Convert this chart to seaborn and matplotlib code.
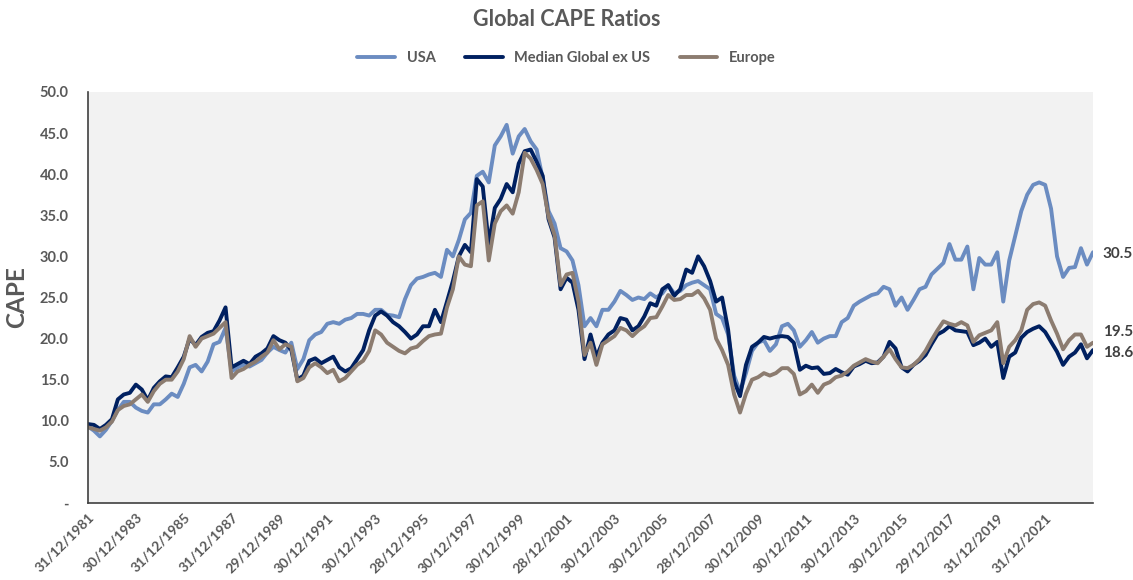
import pandas as pd
import matplotlib
matplotlib.use("Agg")
import matplotlib.pyplot as plt
import seaborn as sns

# quarterly CAPE readings, Dec 1981 .. Dec 2023
start_date = "1981-12-31"
end_date = "2023-12-31"

usa = [
    9.3, 8.8, 8.1, 8.9, 10.0, 11.3, 12.3, 12.3, 11.6,
    11.2, 11.0, 12.0, 12.0, 12.6, 13.3, 12.9, 14.5,
    16.5, 16.8, 16.0, 17.2, 19.3, 19.6, 21.3, 16.0,
    16.5, 16.8, 16.6, 17.0, 17.4, 18.3, 19.0, 18.6,
    18.3, 19.5, 16.3, 17.5, 19.8, 20.5, 20.8, 21.8,
    22.0, 21.8, 22.3, 22.5, 23.0, 23.0, 22.8, 23.5,
    23.5, 22.9, 22.8, 22.6, 24.8, 26.5, 27.3, 27.5,
    27.8, 28.0, 27.5, 30.8, 30.0, 32.0, 34.5, 35.3,
    39.8, 40.3, 39.0, 43.5, 44.6, 46.0, 42.5, 44.6,
    45.5, 44.0, 43.0, 39.5, 35.5, 34.0, 31.0, 30.6,
    29.5, 26.5, 21.5, 22.5, 21.5, 23.5, 23.5, 24.5,
    25.8, 25.3, 24.7, 25.0, 24.8, 25.5, 25.0, 25.5,
    26.5, 25.5, 25.8, 26.5, 26.8, 27.0, 26.5, 26.0,
    23.0, 22.5, 20.5, 15.5, 13.5, 15.8, 18.5, 19.5,
    19.8, 18.5, 19.3, 21.5, 21.8, 21.0, 19.0, 19.8,
    20.8, 19.5, 20.0, 20.3, 20.3, 22.0, 22.5, 24.0,
    24.5, 24.9, 25.3, 25.5, 26.3, 26.0, 24.0, 25.0,
    23.5, 24.7, 26.0, 26.3, 27.8, 28.5, 29.2, 31.5,
    29.6, 29.6, 31.2, 26.0, 29.8, 29.0, 29.0, 30.5,
    24.5, 29.5, 32.5, 35.5, 37.5, 38.7, 39.0, 38.7,
    35.8, 30.0, 27.5, 28.6, 28.7, 31.0, 29.0, 30.5,
]

median_ex_us = [
    9.6, 9.5, 9.0, 9.5, 10.2, 12.6, 13.2, 13.4, 14.4,
    13.8, 12.5, 14.0, 14.8, 15.4, 15.3, 16.5, 17.8,
    20.0, 19.2, 20.2, 20.7, 20.9, 22.2, 23.8, 16.5,
    16.9, 17.3, 16.9, 17.8, 18.2, 18.8, 20.3, 19.8,
    19.5, 18.6, 15.0, 15.5, 17.3, 17.6, 17.0, 17.4,
    17.8, 16.5, 16.0, 16.4, 17.5, 18.6, 21.0, 22.8,
    23.3, 22.8, 22.0, 21.5, 20.8, 20.0, 20.5, 21.5,
    21.5, 23.5, 22.0, 24.5, 27.0, 30.0, 31.4, 30.5,
    39.4, 38.5, 31.5, 35.9, 37.0, 38.8, 37.8, 41.3,
    42.8, 43.0, 41.5, 39.8, 34.5, 32.3, 26.0, 27.4,
    26.8, 23.5, 17.5, 20.5, 17.8, 19.5, 20.5, 21.0,
    22.5, 22.3, 21.0, 21.5, 22.7, 24.3, 24.0, 26.0,
    26.5, 25.2, 26.0, 28.4, 28.0, 30.0, 28.8, 27.0,
    24.5, 25.0, 21.1, 14.8, 13.0, 16.8, 19.0, 19.5,
    20.2, 20.0, 20.2, 20.3, 20.2, 19.5, 16.2, 16.7,
    16.4, 16.5, 15.7, 15.8, 16.3, 15.9, 15.6, 16.6,
    16.9, 17.3, 17.0, 17.1, 17.8, 19.6, 18.8, 16.5,
    16.0, 16.8, 17.3, 18.0, 19.3, 20.5, 20.9, 21.5,
    21.0, 20.9, 20.8, 19.2, 19.5, 20.0, 19.0, 19.6,
    15.2, 17.8, 18.3, 20.1, 20.8, 21.2, 21.5, 20.8,
    19.6, 18.4, 16.8, 17.8, 18.3, 19.3, 17.6, 18.6,
]

europe = [
    9.2, 9.0, 8.8, 9.2, 9.9, 11.3, 11.8, 12.0, 12.6,
    13.2, 12.3, 13.6, 14.5, 15.0, 15.0, 16.0, 17.5,
    20.3, 19.0, 20.0, 20.3, 20.6, 21.3, 22.0, 15.2,
    16.0, 16.3, 16.8, 17.2, 17.8, 18.3, 19.8, 18.7,
    19.3, 19.0, 14.8, 15.2, 16.5, 17.0, 16.5, 15.8,
    16.2, 14.8, 15.2, 16.0, 16.8, 17.3, 18.5, 21.0,
    20.5, 19.5, 19.0, 18.5, 18.2, 18.8, 19.0, 19.7,
    20.3, 20.5, 20.6, 23.8, 26.0, 30.0, 29.0, 28.8,
    36.2, 36.7, 29.5, 34.0, 35.5, 36.2, 35.2, 37.8,
    42.6, 41.9, 40.5, 38.8, 34.8, 32.6, 26.5, 27.8,
    28.0, 24.5, 18.0, 19.5, 16.8, 19.3, 19.8, 20.3,
    21.3, 21.0, 20.3, 21.0, 21.5, 22.5, 22.6, 23.9,
    25.3, 24.7, 24.8, 25.3, 25.3, 25.8, 24.9, 23.5,
    20.0, 18.6, 16.8, 13.2, 11.0, 13.3, 15.0, 15.3,
    15.8, 15.5, 15.8, 16.4, 16.4, 15.7, 13.2, 13.6,
    14.4, 13.4, 14.4, 14.7, 15.3, 15.5, 16.0, 16.7,
    17.1, 17.5, 17.2, 17.0, 17.8, 18.7, 17.5, 16.5,
    16.4, 16.8, 17.5, 18.5, 19.8, 21.0, 22.1, 21.8,
    21.6, 22.0, 21.6, 19.6, 20.4, 20.7, 21.0, 22.0,
    17.0, 19.0, 19.8, 21.0, 23.5, 24.2, 24.4, 24.0,
    22.2, 20.6, 18.7, 19.8, 20.5, 20.5, 19.0, 19.5,
]

tick_labels = [
    "31/12/1981", "30/12/1983", "31/12/1985", "31/12/1987", "29/12/1989",
    "30/12/1991", "30/12/1993", "28/12/1995", "30/12/1997", "30/12/1999",
    "28/12/2001", "30/12/2003", "30/12/2005", "28/12/2007", "30/12/2009",
    "30/12/2011", "30/12/2013", "30/12/2015", "29/12/2017", "31/12/2019",
    "31/12/2021",
]

series_names = ["USA", "Median Global ex US", "Europe"]
colors = ["#6B8CC1", "#002060", "#8C7C70"]
text_grey = "#595959"

dates = pd.date_range(start_date, end_date, freq="QE")
df = pd.DataFrame({"date": dates, "USA": usa,
                   "Median Global ex US": median_ex_us, "Europe": europe})
long_df = df.melt(id_vars="date", var_name="series", value_name="cape")

sns.set_style("white")
plt.rcParams["font.family"] = ["Lato", "DejaVu Sans"]
plt.rcParams["font.weight"] = "bold"

fig = plt.figure(figsize=(11.33, 5.80), dpi=100)
ax = fig.add_axes([0.0777, 0.1328, 0.887, 0.7086])
ax.set_facecolor("#F2F2F2")

sns.lineplot(data=long_df, x="date", y="cape", hue="series",
             hue_order=series_names, palette=colors, linewidth=2.8,
             legend=False, ax=ax)

ax.set_xlim(dates[0], dates[-1])
ax.set_ylim(0, 50)
ax.set_yticks(range(0, 51, 5))
ax.set_yticklabels(["-"] + [f"{v:.1f}" for v in range(5, 51, 5)])

tick_dates = pd.to_datetime(tick_labels, format="%d/%m/%Y")
ax.set_xticks(tick_dates)
ax.set_xticklabels(tick_labels, rotation=45, ha="right",
                   rotation_mode="anchor")

ax.tick_params(axis="both", length=0, colors=text_grey, labelsize=10.5)
ax.tick_params(axis="y", pad=14)
ax.tick_params(axis="x", pad=6, labelsize=10)
for lab in ax.get_xticklabels() + ax.get_yticklabels():
    lab.set_fontweight("bold")

ax.set_xlabel("")
ax.set_ylabel("CAPE", fontsize=17.5, fontweight="bold", color=text_grey,
              labelpad=8)

for side in ["top", "right"]:
    ax.spines[side].set_visible(False)
for side in ["left", "bottom"]:
    ax.spines[side].set_color("#404040")
    ax.spines[side].set_linewidth(1.2)

# end-of-series value labels
last_vals = [usa[-1], median_ex_us[-1], europe[-1]]
nudges = [-1, -2, 8]
for val, dy in zip(last_vals, nudges):
    ax.annotate(f"{val:.1f}", xy=(dates[-1], val), xytext=(7, dy),
                textcoords="offset points", ha="left", va="center",
                fontsize=11, fontweight="bold", color="#404040",
                annotation_clip=False)

fig.legend(handles=ax.lines[:3], labels=series_names, loc="center",
           bbox_to_anchor=(0.5, 0.9), ncol=3, frameon=False,
           handlelength=2.6, columnspacing=2.0,
           prop={"weight": "bold", "size": 10.5}, labelcolor=text_grey)

fig.suptitle("Global CAPE Ratios", y=0.985, fontsize=15.5, fontweight="bold",
             color=text_grey)

fig.savefig("out.png", dpi=100)
